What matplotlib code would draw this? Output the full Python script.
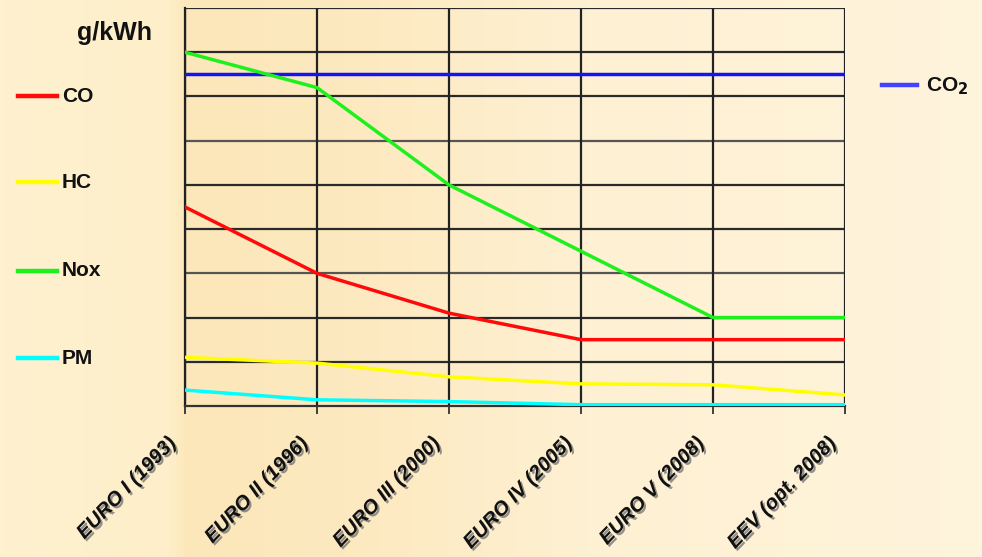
import numpy as np
import matplotlib
matplotlib.use("Agg")
import matplotlib.pyplot as plt
import matplotlib.patheffects as pe
from matplotlib.colors import LinearSegmentedColormap
from matplotlib.transforms import offset_copy

plt.rcParams['font.family'] = ['Liberation Sans', 'DejaVu Sans']

stages = ["EURO I (1993)", "EURO II (1996)", "EURO III (2000)",
          "EURO IV (2005)", "EURO V (2008)", "EEV (opt. 2008)"]
co2 = [7.5, 7.5, 7.5, 7.5, 7.5, 7.5]
nox = [8.0, 7.2, 5.0, 3.5, 2.0, 2.0]
co = [4.5, 3.0, 2.1, 1.5, 1.5, 1.5]
hc = [1.1, 0.97, 0.66, 0.5, 0.48, 0.25]
pm = [0.36, 0.14, 0.1, 0.03, 0.03, 0.03]

W, H = 982, 557
fig = plt.figure(figsize=(W / 100, H / 100), dpi=100)

# background gradient
bg = fig.add_axes([0, 0, 1, 1], zorder=-10)
cmap = LinearSegmentedColormap.from_list("bg", [
    (0.0, "#FEF1CF"), (0.17, "#FEEFCA"), (0.19, "#FCE7BA"),
    (0.35, "#FDE9BF"), (0.6, "#FEF0D2"), (1.0, "#FFF4DC")])
bg.imshow(np.linspace(0, 1, 256)[None, :], aspect="auto", cmap=cmap,
          extent=[0, 1, 0, 1])
bg.axis("off")

ax = fig.add_axes([185 / W, 1 - 406 / H, 660 / W, 398 / H])
ax.patch.set_alpha(0)
x = np.arange(len(stages))

for yv in range(1, 10):
    ax.axhline(yv, color="#2a2a2a" if yv not in (3, 6) else "#555555", lw=1.6, zorder=1)
for xv in x:
    ax.axvline(xv, color="#222222", lw=1.6, zorder=1)

lw = 2.5
ax.plot(x, co2, color="#1414F0", lw=lw, zorder=3)
ax.plot(x, nox, color="#1EF01E", lw=lw, zorder=3)
ax.plot(x, co, color="#FF0A0A", lw=lw, zorder=3)
ax.plot(x, hc, color="#FFFF00", lw=lw, zorder=3)
ax.plot(x, pm, color="#00FFFF", lw=lw, zorder=3)

ax.set_xlim(0, 5)
ax.set_ylim(0, 9)
ax.set_yticks([])
ax.set_xticks(x)
ax.set_xticklabels([])
ax.tick_params(axis="x", direction="out", length=6, width=1.2, color="#222222")
for s in ["top", "right"]:
    ax.spines[s].set_visible(False)
ax.spines["left"].set_color("#222222")
ax.spines["left"].set_linewidth(1.6)
ax.spines["bottom"].set_color("#333333")
ax.spines["bottom"].set_linewidth(1.6)

shadow = [pe.SimplePatchShadow(offset=(1.5, -1.5), shadow_rgbFace="#777777", alpha=0.8), pe.Normal()]
trans = offset_copy(ax.get_xaxis_transform(), fig=fig, x=-12, y=-34, units="dots")
for xi, lab in zip(x, stages):
    ax.text(xi, 0, lab, transform=trans, rotation=46, rotation_mode="anchor",
            ha="right", va="center", fontsize=14.5, fontweight="bold",
            fontstyle="italic", path_effects=shadow, clip_on=False, color="#111111")

# unit label
fig.text(77 / W, 1 - 33 / H, "g/kWh", fontsize=18, fontweight="bold",
         ha="left", va="center", color="#111111")

# left legend
leg = [("CO", "#FF0A0A", 96), ("HC", "#FFFF00", 182),
       ("Nox", "#1EF01E", 271), ("PM", "#00FFFF", 358)]
for name, col, yy in leg:
    fig.add_artist(plt.Line2D([18 / W, 57 / W], [1 - yy / H, 1 - yy / H],
                              color=col, lw=3.2, transform=fig.transFigure))
    fig.text(62 / W, 1 - yy / H, name, fontsize=15, fontweight="bold",
             ha="left", va="center", color="#111111")

# right legend
fig.add_artist(plt.Line2D([882 / W, 917 / W], [1 - 85 / H, 1 - 85 / H],
                          color="#4444FF", lw=3.2, transform=fig.transFigure))
fig.text(926 / W, 1 - 86 / H, r"CO$_\mathbf{2}$", fontsize=15, fontweight="bold",
         ha="left", va="center", color="#111111")

fig.savefig("out.png", dpi=100)
